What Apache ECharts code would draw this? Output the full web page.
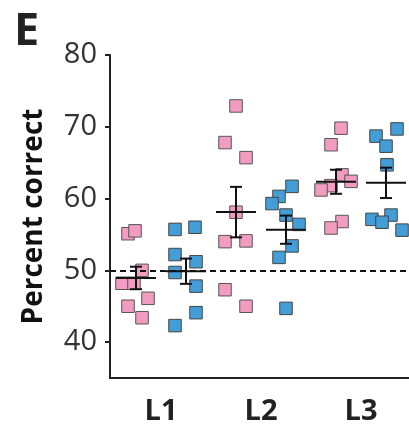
<!DOCTYPE html>
<html><head><meta charset="utf-8">
<script src="https://cdn.jsdelivr.net/npm/echarts@6/dist/echarts.min.js"></script>
<style>html,body{margin:0;padding:0;background:#fff}#c{width:409px;height:427px}</style>
</head><body><div id="c"></div>
<script>
const panelLetter = 'E';
const yTitle = 'Percent correct';
const categories = ['L1', 'L2', 'L3'];
const yTicks = [40, 50, 60, 70, 80];
const chanceLevel = 50;
const pinkValues = [
  [55.1, 55.5, 48.2, 48.2, 50.0, 46.1, 45.0, 43.4],
  [72.9, 67.8, 65.7, 58.1, 54.0, 54.1, 47.3, 45.0],
  [69.8, 67.5, 63.3, 62.4, 61.8, 61.2, 56.8, 55.9]
];
const pinkX = [
  [0.67, 0.74, 0.61, 0.73, 0.81, 0.87, 0.67, 0.81],
  [1.75, 1.64, 1.85, 1.75, 1.64, 1.85, 1.64, 1.85],
  [2.80, 2.70, 2.81, 2.90, 2.70, 2.60, 2.81, 2.70]
];
const blueValues = [
  [55.7, 56.0, 52.2, 51.2, 49.7, 47.8, 44.1, 42.3],
  [61.7, 60.3, 59.3, 57.7, 56.4, 53.4, 51.8, 44.7],
  [69.7, 68.7, 67.3, 64.7, 57.1, 57.7, 56.7, 55.6]
];
const blueX = [
  [1.14, 1.34, 1.14, 1.35, 1.14, 1.35, 1.35, 1.14],
  [2.31, 2.18, 2.11, 2.25, 2.38, 2.31, 2.18, 2.25],
  [3.36, 3.15, 3.25, 3.26, 3.11, 3.30, 3.21, 3.41]
];
const groupOffset = 0.25;

function pts(xs, vs) {
  const out = [];
  xs.forEach((row, i) => row.forEach((x, j) => out.push([x, vs[i][j]])));
  return out;
}
function stats(vs, off) {
  return vs.map((arr, i) => {
    const n = arr.length;
    const m = arr.reduce((a, b) => a + b, 0) / n;
    const sd = Math.sqrt(arr.reduce((a, b) => a + (b - m) * (b - m), 0) / (n - 1));
    return [i + 1 + off, m, sd / Math.sqrt(n)];
  });
}
function renderItem(params, api) {
  const x = api.value(0), m = api.value(1), s = api.value(2);
  const c = api.coord([x, m]), t = api.coord([x, m + s]), b = api.coord([x, m - s]);
  const st = { stroke: '#111', lineWidth: 2 };
  return { type: 'group', children: [
    { type: 'line', shape: { x1: c[0] - 20, y1: c[1], x2: c[0] + 20, y2: c[1] }, style: st },
    { type: 'line', shape: { x1: t[0], y1: t[1], x2: b[0], y2: b[1] }, style: st },
    { type: 'line', shape: { x1: t[0] - 6, y1: t[1], x2: t[0] + 6, y2: t[1] }, style: st },
    { type: 'line', shape: { x1: b[0] - 6, y1: b[1], x2: b[0] + 6, y2: b[1] }, style: st }
  ] };
}

const chart = echarts.init(document.getElementById('c'), null, { renderer: 'canvas' });
const font = '"Open Sans", "Noto Sans", sans-serif';
chart.setOption({
  animation: false,
  backgroundColor: '#fff',
  title: { text: panelLetter, left: 9, top: 5, textStyle: { fontSize: 45, fontWeight: 'bold', color: '#222', fontFamily: font } },
  grid: { left: 110, top: 55, right: 0, bottom: 49, containLabel: false },
  xAxis: {
    type: 'value', min: 0.49, max: 3.48,
    splitLine: { show: false },
    axisLine: { show: true, lineStyle: { color: '#222', width: 2 } },
    axisTick: { show: false },
    axisLabel: {
      customValues: [1, 2, 3],
      formatter: v => categories[Math.round(v) - 1] || '',
      fontSize: 29, fontWeight: 'bold', color: '#222', fontFamily: font, margin: 19
    }
  },
  yAxis: {
    type: 'value', min: 35, max: 80,
    name: yTitle, nameLocation: 'middle', nameGap: 62,
    nameTextStyle: { fontSize: 28, fontWeight: 'bold', color: '#111', fontFamily: font },
    splitLine: { show: false },
    axisLine: { show: true, lineStyle: { color: '#222', width: 2 } },
    axisTick: { show: true, customValues: yTicks, length: 5, lineStyle: { color: '#222', width: 2 } },
    axisLabel: { customValues: yTicks, fontSize: 29, color: '#333', fontFamily: font, margin: 13 }
  },
  series: [
    {
      type: 'scatter', symbol: 'rect', symbolSize: 12.5, data: pts(pinkX, pinkValues),
      itemStyle: { color: '#F29CC2', borderColor: '#555', borderWidth: 1, opacity: 1 },
      markLine: {
        silent: true, symbol: 'none', label: { show: false },
        lineStyle: { color: '#111', type: [6, 4], width: 1.8 },
        data: [{ yAxis: chanceLevel }]
      }
    },
    {
      type: 'scatter', symbol: 'rect', symbolSize: 12.5, data: pts(blueX, blueValues),
      itemStyle: { color: '#439DD6', borderColor: '#444', borderWidth: 1, opacity: 1 }
    },
    { type: 'custom', renderItem: renderItem, data: stats(pinkValues, -groupOffset), z: 5 },
    { type: 'custom', renderItem: renderItem, data: stats(blueValues, groupOffset), z: 5 }
  ]
});
</script></body></html>
